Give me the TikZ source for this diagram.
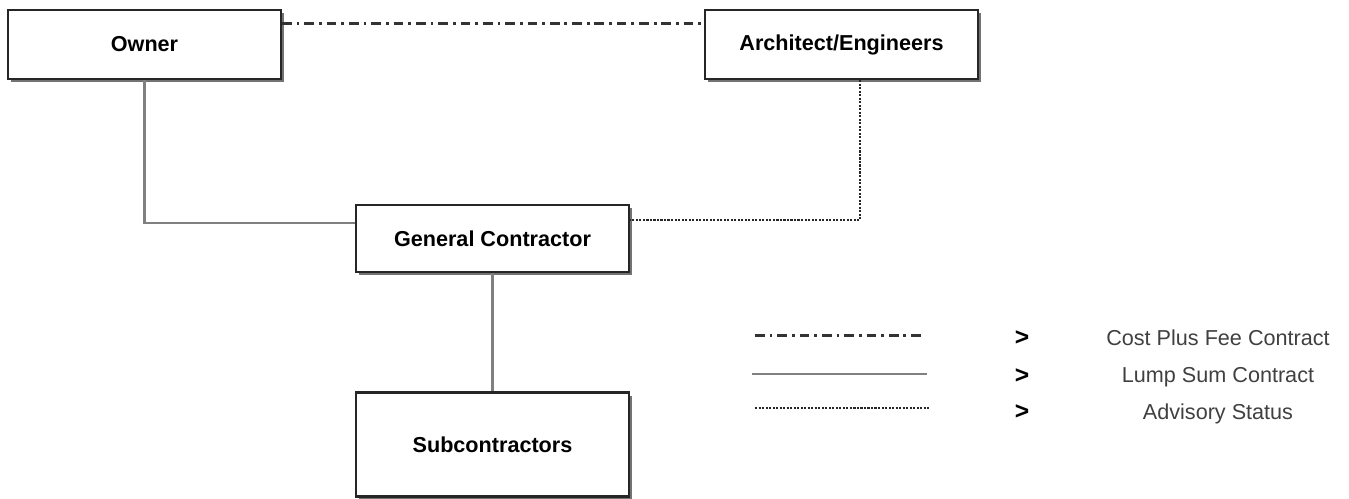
\documentclass[tikz,border=0pt]{standalone}
\usepackage{fontspec}
\setmainfont{Liberation Sans}
\usetikzlibrary{shadows}

\begin{document}
\begin{tikzpicture}[x=0.02cm, y=-0.02cm,
        box/.style={draw=black!85, line width=0.045cm, fill=white,
            minimum width=5.46cm, minimum height=1.38cm, inner sep=0pt,
            font=\fontsize{12.3}{14}\selectfont\bfseries,
            drop shadow={shadow xshift=0.06cm, shadow yshift=-0.06cm, fill=black!55, opacity=1}},
        costplus/.style={draw=black!80, line width=0.06cm,
            dash pattern=on 5.5pt off 2.8pt on 1.6pt off 2.8pt},
        lumpsum/.style={draw=black!50, line width=0.05cm},
        advisory/.style={draw=black!85, line width=0.055cm,
            dash pattern=on 1.2pt off 0.8pt},
        legtext/.style={text=black!75, font=\fontsize{12.3}{14}\selectfont},
        gtmark/.style={font=\fontsize{14}{15}\selectfont\bfseries}]
        \useasboundingbox (0,0) rectangle (1349,498);

        % boxes
        \node[box] (owner) at (144.5,44.5) {Owner};
        \node[box] (arch) at (841.5,44.5) {Architect/Engineers};
        \node[box, minimum height=1.34cm] (gc) at (492.5,238.5) {General Contractor};
        \node[box, minimum height=2.08cm] (sub) at (492.5,444.5) {Subcontractors};

        % contracts
        \draw[costplus] ([yshift=0.42cm]owner.east) -- ([yshift=0.42cm]arch.west);
        \draw[lumpsum] (owner.south) |- ([yshift=0.31cm]gc.west);
        \draw[advisory] ([xshift=0.37cm]arch.south) |- ([yshift=0.37cm]gc.east);
        \draw[lumpsum] (gc.south) -- (sub.north);

        % legend
        \coordinate (legA1) at (755,335);
        \coordinate (legA2) at (925,335);
        \coordinate (legB1) at (752,374);
        \coordinate (legB2) at (927,374);
        \coordinate (legC1) at (755,408);
        \coordinate (legC2) at (930,408);
        \draw[costplus] (legA1) -- (legA2);
        \draw[lumpsum] (legB1) -- (legB2);
        \draw[advisory] (legC1) -- (legC2);

        \node[gtmark] (gtA) at (1022,338) {>};
        \node[gtmark] (gtB) at (1022,376) {>};
        \node[gtmark] (gtC) at (1022,412) {>};
        \node[legtext] (txtA) at (1218,338) {Cost Plus Fee Contract};
        \node[legtext] (txtB) at (1218,377) {Lump Sum Contract};
        \node[legtext] (txtC) at (1218,414) {Advisory Status};
    \end{tikzpicture}
\end{document}
